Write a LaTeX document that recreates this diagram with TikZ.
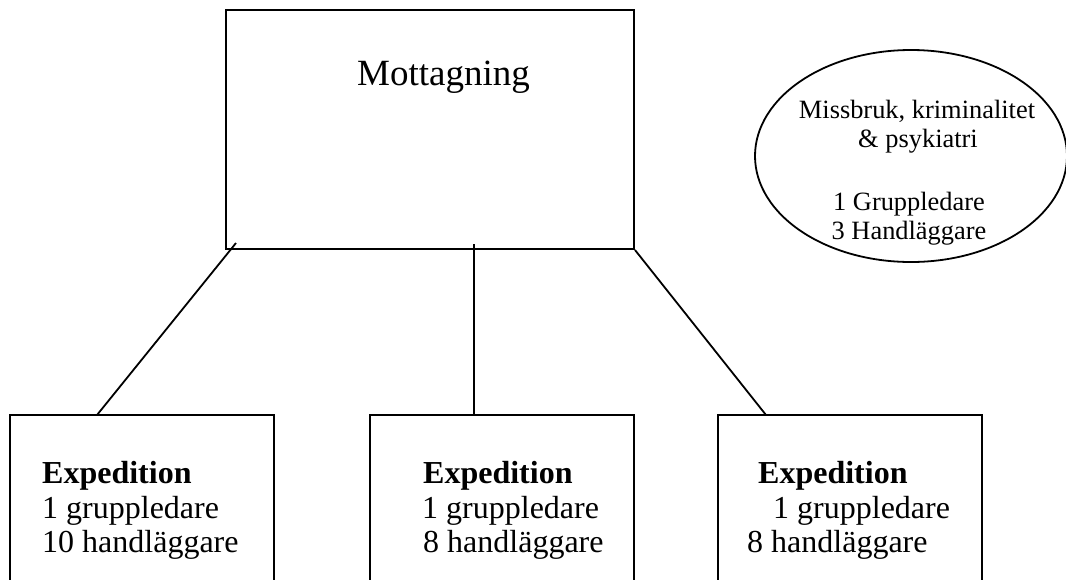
\documentclass[tikz,border=0pt]{standalone}
\usepackage{fontspec}
\setmainfont{Liberation Serif}
\usetikzlibrary{shapes.geometric}
\tikzset{
  boxshape/.style={draw, line width=2pt, rectangle, inner sep=0pt},
  ellshape/.style={draw, line width=1.8pt, ellipse, inner sep=0pt},
  conn/.style={line width=1.8pt},
  bigtxt/.style={inner sep=0pt, anchor=base west, font=\fontsize{37}{44}\selectfont},
  boxtxt/.style={inner sep=0pt, anchor=base west, font=\fontsize{32}{38}\selectfont},
  elltxt/.style={inner sep=0pt, anchor=base, font=\fontsize{26.4}{31}\selectfont},
}
\begin{document}
\begin{tikzpicture}[x=1pt,y=-1pt]
\useasboundingbox (0,0) rectangle (1066,579);
\clip (0,0) rectangle (1066,579);
\fill[white] (0,0) rectangle (1066,579);
% top box
\node[boxshape, minimum width=408pt, minimum height=239pt] (mott) at (430,129.5) {};
\node[bigtxt] (motttxt) at (357,85) {Mottagning};
% ellipse
\node[ellshape, minimum width=312pt, minimum height=212pt] (ell) at (911,156) {};
\node[elltxt] (e1) at (917,118) {Missbruk, kriminalitet};
\node[elltxt] (e2) at (918,147) {\&\ psykiatri};
\node[elltxt] (e3) at (909,210) {1 Gruppledare};
\node[elltxt] (e4) at (909,239) {3 Handläggare};
% bottom boxes
\node[boxshape, minimum width=264pt, minimum height=200pt] (expA) at (142,515) {};
\node[boxshape, minimum width=264pt, minimum height=200pt] (expB) at (502,515) {};
\node[boxshape, minimum width=264pt, minimum height=200pt] (expC) at (850,515) {};
\node[boxtxt] (a1) at (42,483) {\textbf{Expedition}};
\node[boxtxt] (a2) at (42,518) {1 gruppledare};
\node[boxtxt] (a3) at (42,552) {10 handläggare};
\node[boxtxt] (b1) at (423,483) {\textbf{Expedition}};
\node[boxtxt] (b2) at (422,518) {1 gruppledare};
\node[boxtxt] (b3) at (423,552) {8 handläggare};
\node[boxtxt] (c1) at (758,483) {\textbf{Expedition}};
\node[boxtxt] (c2) at (773,518) {1 gruppledare};
\node[boxtxt] (c3) at (747,552) {8 handläggare};
% connectors
\coordinate (sA) at (236,243);
\coordinate (sB) at (474,244);
\coordinate (sC) at (mott.south east);
\coordinate (tA) at (97,415);
\coordinate (tB) at (474,415);
\coordinate (tC) at (766,415);
\draw[conn] (sA) -- (tA);
\draw[conn] (sB) -- (tB);
\draw[conn] (sC) -- (tC);
\end{tikzpicture}
\end{document}
